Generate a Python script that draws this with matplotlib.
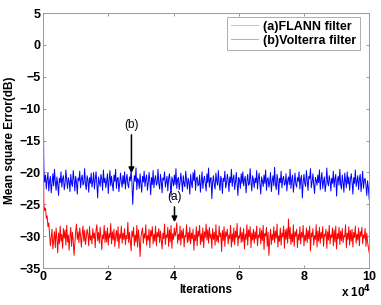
import numpy as np
import matplotlib
matplotlib.use("Agg")
import matplotlib.pyplot as plt

plt.rcParams['font.family'] = 'Liberation Sans'
plt.rcParams['font.weight'] = 'bold'
plt.rcParams['axes.labelweight'] = 'bold'

# first few iterations (fast transient), in units of 10^4 iterations
head_iters = [0.0, 0.01, 0.02]
head_volterra = [-5.0, -12.0, -17.0]
head_flann = [-8.0, -16.0, -22.0]

# steady part, one value every 0.025 x 10^4 iterations (0.025 .. 10)
volterra_mse = [
    -19.8, -21.5, -20.4, -22.6, -21.1, -20.0, -22.9, -21.3, -20.6, -23.2, -21.7, -20.2, -22.1, -19.5, -21.4, -22.8, -20.7, -21.9, -23.6, -20.9,
    -21.6, -19.9, -22.3, -21.0, -20.5, -22.7, -21.8, -19.6, -21.2, -22.5, -20.8, -21.4, -23.0, -20.3, -21.7, -22.2, -19.7, -21.1, -22.9, -20.6,
    -21.5, -23.4, -20.9, -21.3, -19.8, -22.4, -21.0, -20.4, -22.0, -21.6, -19.4, -21.9, -22.7, -20.5, -21.2, -23.1, -20.8, -21.7, -20.1, -22.3,
    -21.4, -20.0, -22.6, -21.1, -19.9, -21.8, -24.0, -20.7, -21.5, -22.2, -20.3, -21.0, -22.8, -19.6, -21.6, -20.9, -22.4, -21.3, -20.2, -23.3,
    -21.2, -19.7, -22.1, -20.6, -21.9, -22.9, -20.4, -21.4, -19.5, -22.5, -21.0, -20.8, -23.0, -21.7, -20.1, -21.5, -22.3, -20.5, -21.8, -19.9,
    -22.6, -21.1, -20.3, -21.9, -22.4, -20.7, -21.3, -19.6, -21.6, -25.0, -22.0, -20.5, -21.4, -19.3, -22.7, -20.9, -21.2, -22.5, -20.2, -21.8,
    -23.1, -20.6, -21.5, -19.8, -22.2, -21.0, -20.4, -22.8, -21.7, -20.0, -21.3, -23.5, -20.8, -21.9, -19.7, -22.4, -21.1, -20.5, -22.0, -21.6,
    -19.5, -21.8, -22.6, -20.3, -21.4, -23.2, -20.9, -21.2, -19.9, -22.3, -21.5, -20.6, -22.9, -21.0, -20.2, -21.7, -23.8, -20.7, -21.3, -22.1,
    -20.4, -21.9, -19.4, -22.5, -21.1, -20.8, -22.7, -21.6, -20.1, -21.4, -23.0, -20.5, -21.8, -22.2, -19.8, -21.2, -22.6, -20.9, -21.5, -23.4,
    -20.3, -21.7, -22.4, -20.0, -21.3, -19.6, -22.8, -21.0, -20.7, -22.1, -21.9, -20.4, -23.1, -21.4, -19.9, -22.5, -21.2, -20.6, -21.8, -22.9,
    -20.2, -21.6, -19.3, -22.3, -21.0, -20.8, -24.1, -21.5, -20.5, -21.9, -22.6, -20.1, -21.3, -22.0, -19.7, -21.7, -22.8, -20.6, -21.1, -23.3,
    -20.9, -21.4, -19.8, -22.4, -21.8, -20.3, -21.2, -23.0, -20.7, -21.6, -19.5, -22.2, -21.0, -20.4, -22.7, -21.5, -20.0, -21.9, -23.6, -20.8,
    -21.3, -22.5, -20.2, -21.7, -19.9, -22.1, -21.1, -20.6, -23.2, -21.4, -20.3, -22.0, -21.8, -19.4, -21.5, -22.9, -20.5, -21.2, -22.4, -20.9,
    -21.6, -19.7, -22.6, -21.0, -20.1, -21.9, -23.4, -20.7, -21.3, -22.2, -20.4, -21.7, -19.6, -22.8, -21.1, -20.8, -22.3, -21.5, -20.0, -23.0,
    -21.4, -20.5, -22.1, -19.2, -21.8, -22.7, -20.3, -21.2, -23.5, -20.9, -21.6, -19.8, -22.4, -21.0, -20.6, -22.0, -21.7, -20.2, -22.9, -21.3,
    -20.7, -21.9, -19.5, -22.5, -21.1, -20.4, -23.1, -21.5, -20.1, -21.8, -22.3, -20.8, -21.4, -19.9, -22.6, -21.0, -20.5, -24.0, -21.6, -20.3,
    -21.7, -22.2, -19.7, -21.3, -22.8, -20.6, -21.0, -19.4, -22.4, -21.5, -20.2, -21.9, -23.3, -20.8, -21.2, -22.0, -20.4, -21.6, -19.6, -22.7,
    -21.1, -20.0, -22.5, -21.4, -20.7, -23.0, -21.8, -19.3, -21.5, -22.1, -20.5, -21.3, -22.9, -20.9, -21.7, -19.8, -22.3, -21.0, -20.3, -23.7,
    -21.2, -20.6, -22.0, -19.5, -21.9, -22.6, -20.4, -21.6, -23.1, -20.1, -21.3, -22.4, -19.9, -21.8, -20.7, -22.8, -21.1, -20.2, -21.5, -23.4,
    -20.8, -21.7, -19.6, -22.2, -21.4, -20.5, -22.7, -21.0, -20.3, -23.0, -21.6, -19.8, -22.5, -21.2, -20.9, -22.0, -23.6, -21.3, -22.4, -24.2,
]
flann_mse = [
    -25.0, -26.0, -25.6, -27.2, -26.8, -28.5, -27.9, -29.6, -31.5, -30.2, -28.9, -32.0, -30.6, -29.3, -31.8, -28.7, -30.4, -32.6, -29.5, -31.2,
    -28.4, -30.8, -29.7, -31.9, -28.8, -30.3, -29.0, -31.4, -28.3, -30.9, -29.8, -32.2, -30.1, -28.6, -31.6, -29.4, -30.7, -33.0, -31.1, -29.2,
    -28.1, -30.5, -29.3, -31.0, -28.7, -30.0, -31.7, -29.6, -28.4, -30.8, -29.1, -31.3, -30.2, -28.9, -29.7, -31.5, -28.5, -30.6, -29.9, -31.2,
    -28.8, -30.3, -29.5, -31.8, -29.0, -28.2, -30.7, -29.4, -31.1, -28.6, -30.1, -32.1, -29.8, -30.4, -28.3, -31.0, -29.2, -30.9, -28.7, -31.4,
    -29.6, -30.2, -28.0, -31.2, -29.3, -30.6, -28.9, -31.6, -30.0, -29.1, -30.8, -28.5, -31.9, -29.7, -30.3, -28.4, -31.1, -29.5, -30.5, -28.8,
    -31.3, -29.9, -30.4, -27.8, -31.0, -29.4, -30.7, -32.3, -29.2, -30.1, -28.6, -31.5, -29.8, -30.9, -28.3, -31.7, -29.0, -30.5, -33.2, -30.2,
    -29.3, -28.7, -31.1, -29.6, -30.3, -28.2, -31.4, -29.9, -30.6, -28.9, -31.8, -29.1, -30.0, -28.5, -31.2, -29.7, -30.8, -28.4, -31.5, -29.4,
    -30.1, -28.8, -31.0, -29.2, -30.7, -32.0, -29.5, -30.4, -28.1, -31.3, -29.8, -30.2, -28.6, -31.6, -29.0, -30.9, -28.3, -31.9, -29.6, -30.5,
    -28.7, -30.0, -29.3, -27.9, -31.1, -29.7, -30.6, -28.4, -31.4, -29.1, -30.3, -28.8, -31.7, -29.9, -30.1, -28.2, -31.0, -29.4, -30.8, -28.6,
    -31.2, -29.5, -30.4, -28.9, -32.2, -29.8, -30.7, -28.5, -31.5, -29.2, -30.0, -28.3, -31.3, -29.6, -30.9, -28.7, -31.8, -29.3, -30.2, -28.1,
    -30.6, -29.0, -31.1, -28.6, -30.3, -29.7, -31.9, -28.8, -30.5, -29.4, -31.4, -28.2, -30.8, -29.9, -31.0, -28.4, -30.1, -29.5, -32.4, -29.1,
    -30.7, -28.5, -31.6, -29.3, -30.0, -28.9, -31.2, -29.8, -30.4, -28.3, -31.7, -29.6, -30.9, -28.7, -31.3, -29.2, -30.2, -28.0, -31.5, -29.9,
    -30.3, -28.6, -31.0, -29.4, -30.8, -28.8, -32.0, -29.7, -30.5, -28.2, -31.4, -29.0, -30.1, -28.5, -31.8, -29.5, -30.6, -28.9, -31.1, -29.3,
    -30.4, -28.4, -31.5, -29.8, -30.2, -28.7, -31.2, -29.1, -30.7, -28.3, -32.1, -29.6, -30.0, -28.6, -31.6, -29.4, -33.0, -30.5, -28.9, -31.3,
    -29.7, -30.6, -28.5, -31.0, -29.2, -30.3, -28.1, -31.7, -29.9, -30.8, -28.7, -31.4, -29.5, -30.1, -28.4, -31.9, -29.0, -30.5, -28.8, -31.1,
    -27.3, -30.4, -28.6, -31.3, -29.6, -30.9, -28.2, -31.6, -29.3, -30.0, -28.9, -31.8, -29.7, -30.6, -28.5, -31.2, -29.4, -30.2, -28.3, -31.5,
    -29.8, -30.7, -28.7, -31.0, -29.1, -30.4, -28.4, -32.3, -29.5, -30.1, -28.8, -31.4, -29.9, -30.5, -28.2, -31.7, -29.2, -30.8, -28.6, -31.1,
    -29.4, -30.3, -28.5, -31.6, -29.7, -30.0, -28.9, -31.9, -29.3, -30.6, -28.3, -31.2, -29.8, -30.2, -28.7, -31.5, -29.0, -30.9, -28.4, -32.0,
    -29.6, -30.4, -28.6, -31.3, -29.2, -30.7, -28.8, -31.0, -29.9, -30.1, -28.2, -31.8, -29.5, -30.5, -28.5, -31.4, -29.1, -30.8, -28.9, -31.7,
    -29.4, -30.2, -28.4, -31.1, -29.7, -30.6, -28.7, -31.5, -29.3, -30.0, -28.6, -31.2, -29.8, -30.3, -28.8, -31.6, -29.5, -30.9, -31.8, -32.6,
]

body_iters = np.linspace(0.025, 10, len(volterra_mse))
iters = np.concatenate([head_iters, body_iters])
vol = np.concatenate([head_volterra, volterra_mse])
fla = np.concatenate([head_flann, flann_mse])

fig = plt.figure(figsize=(3.81, 3.05), dpi=100)
ax = fig.add_axes([0.113, 0.121, 0.856, 0.836])

ax.plot(iters, fla, color='#ff0000', lw=0.7, label='(a)FLANN filter')
ax.plot(iters, vol, color='#0000ff', lw=0.7, label='(b)Volterra filter')

ax.set_xlim(0, 10)
ax.set_ylim(-35, 5)
ax.set_xticks([0, 2, 4, 6, 8, 10])
ax.set_yticks(range(-35, 6, 5))
ax.tick_params(direction='in', top=True, right=True, length=2.5, width=0.6,
               color='#888888', labelsize=9, pad=2)
for sp in ax.spines.values():
    sp.set_color('#999999')
    sp.set_linewidth(0.7)

ax.set_xlabel('Iterations', fontsize=8.5, labelpad=1)
ax.set_ylabel('Mean square Error(dB)', fontsize=8.5, labelpad=2)
fig.text(0.975, 0.025, r'x 10$^4$', fontsize=8.5, ha='right')

leg = ax.legend(loc='upper right', bbox_to_anchor=(0.98, 0.995),
                prop={'family': 'Liberation Sans', 'weight': 'bold', 'size': 9},
                frameon=True, fancybox=False, borderaxespad=0.2,
                handlelength=2.2, handletextpad=0.4, borderpad=0.3, labelspacing=0.15)
leg.get_frame().set_edgecolor('#999999')
leg.get_frame().set_linewidth(0.7)
for line in leg.get_lines():
    line.set_alpha(0.4)
    line.set_linewidth(0.6)

arrow = dict(arrowstyle='-|>', color='black', lw=1.1, mutation_scale=8, shrinkA=0, shrinkB=0)
ax.annotate('', xy=(2.71, -20.1), xytext=(2.71, -14.1), arrowprops=arrow)
ax.text(2.71, -12.6, '(b)', fontsize=8.5, fontweight='normal', ha='center', va='center')
ax.annotate('', xy=(4.03, -27.8), xytext=(4.03, -25.4), arrowprops=arrow)
ax.text(4.03, -23.9, '(a)', fontsize=8.5, fontweight='normal', ha='center', va='center')

fig.savefig('out.png', dpi=100)
